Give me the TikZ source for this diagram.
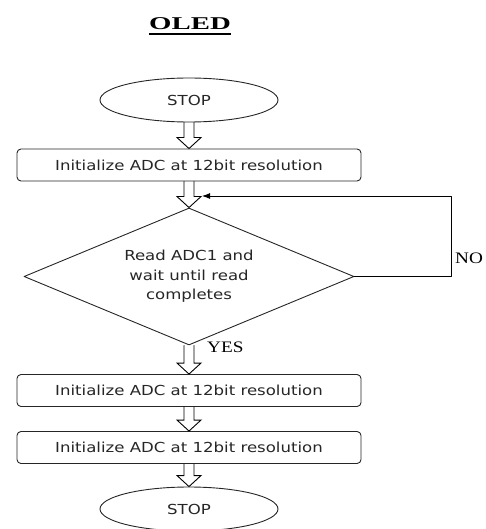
\documentclass[tikz,border=0pt]{standalone}
\usepackage{fontspec}
\setmainfont{Liberation Serif}
\newfontfamily\uifont{DejaVu Sans}
\usepackage{graphicx}
\usetikzlibrary{shapes.geometric,arrows.meta,calc}

% text in the picture is a bit wider than the font
\newcommand\wide[1]{\scalebox{1.2}[1]{#1}}
% hollow block arrow from one node down to the next
\newcommand\hollowdown[2]{%
  \draw[hollow] ($(#1.south)+(-5,0)$) -- ($(#2.north)+(-5,-11)$)
    -- ++(-7,0) -- (#2.north) -- ++(12,-11) -- ++(-7,0)
    -- ($(#1.south)+(5,0)$);}

\tikzset{
  shapeline/.style={line width=0.9pt, draw=black!85},
  uitext/.style={font=\uifont\fontsize{13.8}{19.5}\selectfont, text=black!85},
  term/.style={ellipse, shapeline, uitext, minimum width=178pt, minimum height=44pt, inner sep=0pt},
  procbox/.style={rectangle, rounded corners=4pt, shapeline, uitext, minimum width=344pt, minimum height=32pt, inner sep=0pt},
  decide/.style={diamond, aspect=2.4, shapeline, uitext, minimum width=330pt, minimum height=137pt, inner sep=0pt},
  hollow/.style={line width=0.9pt, draw=black, line join=miter},
  lbl/.style={font=\fontsize{16}{18}\selectfont, inner sep=0pt}
}

\begin{document}
\begin{tikzpicture}[x=1pt, y=-1pt, line cap=round, line join=round]
  \useasboundingbox (0,0) rectangle (486,529);

  % title
  \node[font=\bfseries\fontsize{18}{20}\selectfont, inner sep=0pt, anchor=base] (title) at (190,30)
    {\scalebox{1.6}[1]{OLED}};
  \draw[line width=2pt, line cap=butt] ($(title.base west)+(0,4)$) -- ($(title.base east)+(0,4)$);

  % blocks
  \node[term] (start) at (189,100) {\wide{STOP}};
  \node[procbox] (init1) at (189,165) {\wide{Initialize ADC at 12bit resolution}};
  \node[decide] (read) at (189,276.5)
    {\wide{\begin{tabular}{@{}c@{}}Read ADC1 and\\wait until read\\completes\end{tabular}}};
  \node[procbox] (init2) at (189,390.5) {\wide{Initialize ADC at 12bit resolution}};
  \node[procbox] (init3) at (189,447.5) {\wide{Initialize ADC at 12bit resolution}};
  \node[term] (stop) at (189,509) {\wide{STOP}};

  % flow
  \hollowdown{start}{init1}
  \hollowdown{init1}{read}
  \hollowdown{read}{init2}
  \hollowdown{init2}{init3}
  \hollowdown{init3}{stop}

  % loop back when not done
  \coordinate (back) at (202,196);
  \draw[line width=0.9pt, -{Latex[length=8pt,width=6pt]}] (read.east) -- ++(97,0) |- (back);

  % labels
  \node[lbl, anchor=west] (no) at (455,258) {\wide{NO}};
  \node[lbl, anchor=west] (yes) at (207,347) {\wide{YES}};
\end{tikzpicture}
\end{document}
